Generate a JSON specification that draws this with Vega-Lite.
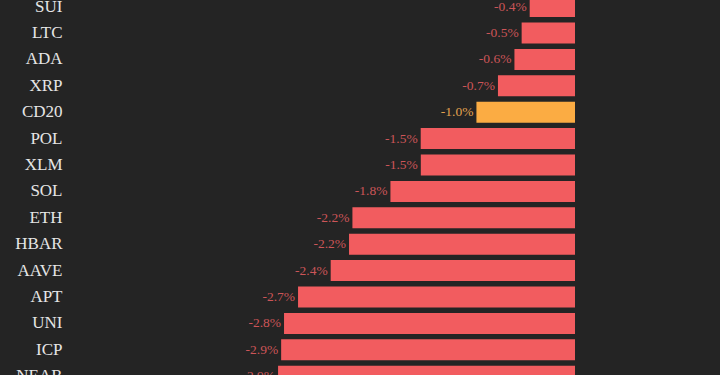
{
  "$schema": "https://vega.github.io/schema/vega-lite/v6.json",
  "width": 650,
  "height": 375,
  "autosize": {"type": "none"},
  "padding": {"left": 70, "top": 0, "right": 0, "bottom": 0},
  "background": "#242424",
  "config": {"view": {"stroke": null}},
  "data": {
    "values": [
      {"coin": "SUI", "change": -0.44},
      {"coin": "LTC", "change": -0.518},
      {"coin": "ADA", "change": -0.588},
      {"coin": "XRP", "change": -0.748},
      {"coin": "CD20", "change": -0.957},
      {"coin": "POL", "change": -1.498},
      {"coin": "XLM", "change": -1.497},
      {"coin": "SOL", "change": -1.792},
      {"coin": "ETH", "change": -2.161},
      {"coin": "HBAR", "change": -2.194},
      {"coin": "AAVE", "change": -2.372},
      {"coin": "APT", "change": -2.689},
      {"coin": "UNI", "change": -2.825},
      {"coin": "ICP", "change": -2.853},
      {"coin": "NEAR", "change": -2.883}
    ]
  },
  "transform": [
    {"calculate": "replace(format(datum.change, '.1f'), '\u2212', '-') + '%'", "as": "label"}
  ],
  "encoding": {
    "y": {
      "field": "coin",
      "type": "nominal",
      "sort": null,
      "scale": {"range": [-6.6, 389.4], "paddingInner": 0.205, "paddingOuter": 0.1025},
      "axis": {
        "title": null,
        "domain": false,
        "ticks": false,
        "labelPadding": 8,
        "labelFont": "Liberation Serif",
        "labelFontSize": 17,
        "labelColor": "#e6e6e6"
      }
    },
    "x": {
      "field": "change",
      "type": "quantitative",
      "scale": {"domain": [-4.903, 0], "range": [0, 505], "nice": false, "zero": false},
      "axis": null
    }
  },
  "layer": [
    {
      "mark": {"type": "bar"},
      "encoding": {
        "color": {
          "condition": {"test": "datum.coin === 'CD20'", "value": "#fbac43"},
          "value": "#f25c5f"
        }
      }
    },
    {
      "mark": {"type": "text", "align": "right", "baseline": "middle", "dx": -3, "font": "Liberation Serif", "fontSize": 13.5},
      "encoding": {
        "text": {"field": "label", "type": "nominal"},
        "color": {
          "condition": {"test": "datum.coin === 'CD20'", "value": "#e2a24e"},
          "value": "#cc5558"
        }
      }
    }
  ]
}
